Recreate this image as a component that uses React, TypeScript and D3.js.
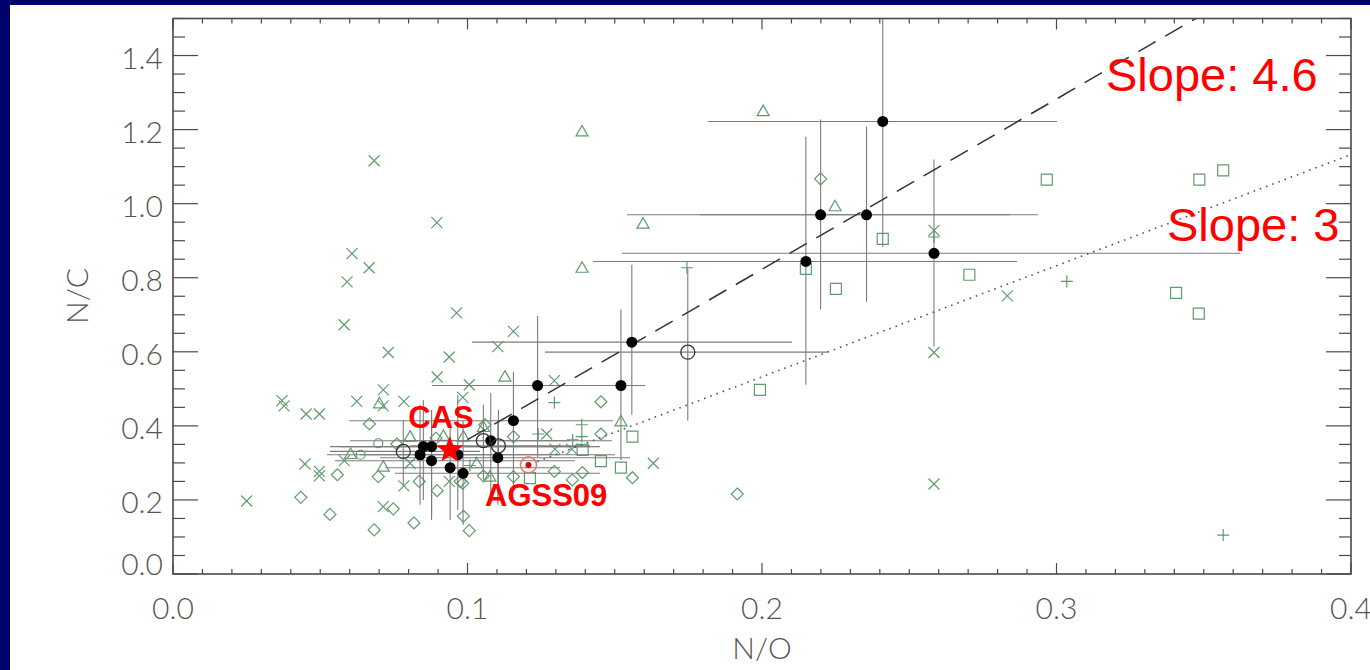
import React from 'react';
import * as d3 from 'd3';

const W = 1370;
const H = 670;

// Axis ticks
const xMajor = [0, 0.1, 0.2, 0.3, 0.4];
const yMajor = [0, 0.2, 0.4, 0.6, 0.8, 1.0, 1.2, 1.4];

// Filled stars with error ranges: [N/O, N/C, N/O lo, N/O hi, N/C lo, N/C hi]
const filledStars = [
  [0.2410, 1.222, 0.1817, 0.3002, 0.884, 1.62],
  [0.2199, 0.970, 0.1542, 0.2842, 0.714, 1.227],
  [0.2355, 0.970, 0.1789, 0.2937, 0.735, 1.208],
  [0.2149, 0.844, 0.1426, 0.2866, 0.511, 1.181],
  [0.2584, 0.866, 0.1525, 0.3623, 0.614, 1.119],
  [0.1558, 0.626, 0.1015, 0.2102, 0.430, 0.835],
  [0.1521, 0.509, 0.1008, 0.1603, 0.308, 0.714],
  [0.1238, 0.509, 0.0879, 0.1586, 0.316, 0.697],
  [0.1156, 0.414, 0.0598, 0.1494, 0.235, 0.546],
  [0.1079, 0.360, 0.0601, 0.1491, 0.192, 0.489],
  [0.1103, 0.314, 0.0703, 0.1552, 0.187, 0.416],
  [0.0985, 0.272, 0.0754, 0.1450, 0.132, 0.416],
  [0.0941, 0.287, 0.0720, 0.1314, 0.146, 0.416],
  [0.0878, 0.306, 0.0550, 0.1365, 0.146, 0.430],
  [0.0839, 0.322, 0.0523, 0.1314, 0.187, 0.457],
  [0.0850, 0.344, 0.0533, 0.1416, 0.200, 0.470],
  [0.0878, 0.344, 0.0567, 0.1450, 0.160, 0.443],
  [0.0967, 0.322, 0.0635, 0.1501, 0.173, 0.484],
];

// Open stars with error ranges
const openStars = [
  [0.0782, 0.331, 0.0533, 0.1042, 0.241, 0.416],
  [0.1054, 0.360, 0.0771, 0.1348, 0.254, 0.457],
  [0.1105, 0.346, 0.0805, 0.1416, 0.227, 0.443],
  [0.1748, 0.599, 0.1263, 0.2224, 0.414, 0.827],
];

// Comparison samples, one list per plot symbol: [N/O, N/C]
const crossPts = [
  [0.0683, 1.116], [0.0896, 0.949], [0.0608, 0.865], [0.0666, 0.827], [0.0591, 0.789],
  [0.0581, 0.673], [0.0963, 0.705], [0.1156, 0.655], [0.0731, 0.598], [0.1103, 0.614],
  [0.0938, 0.586], [0.0897, 0.532], [0.0714, 0.497], [0.1006, 0.511], [0.0984, 0.477],
  [0.0370, 0.468], [0.0377, 0.454], [0.0452, 0.432], [0.0497, 0.432], [0.0624, 0.466],
  [0.0714, 0.454], [0.0784, 0.466], [0.0250, 0.197], [0.0448, 0.297], [0.0497, 0.277],
  [0.0497, 0.265], [0.0582, 0.306], [0.0714, 0.182], [0.0784, 0.238], [0.0805, 0.299],
  [0.1295, 0.522], [0.1269, 0.378], [0.1297, 0.337], [0.1354, 0.337], [0.1631, 0.299],
  [0.2584, 0.928], [0.2584, 0.598], [0.2584, 0.243], [0.2833, 0.751], [0.0938, 0.250],
];
const diamondPts = [
  [0.2199, 1.067], [0.1453, 0.465], [0.1453, 0.378], [0.1156, 0.371], [0.1560, 0.260],
  [0.1390, 0.274], [0.1356, 0.254], [0.1295, 0.277], [0.1916, 0.216], [0.0986, 0.156],
  [0.1006, 0.117], [0.0818, 0.138], [0.0667, 0.405], [0.0434, 0.207], [0.0533, 0.161],
  [0.0558, 0.268], [0.0683, 0.119], [0.0748, 0.176], [0.0697, 0.263], [0.0836, 0.250],
  [0.0897, 0.225], [0.0984, 0.245], [0.1054, 0.265], [0.0760, 0.351], [0.0893, 0.367],
  [0.0975, 0.250], [0.1156, 0.263], [0.1059, 0.403],
];
const trianglePts = [
  [0.1389, 1.195], [0.2004, 1.250], [0.1596, 0.946], [0.1389, 0.827], [0.2248, 0.993],
  [0.1127, 0.533], [0.1521, 0.412], [0.0701, 0.461], [0.0603, 0.324], [0.0714, 0.290],
  [0.0805, 0.371], [0.1031, 0.299], [0.1076, 0.263], [0.1054, 0.397], [0.0918, 0.373],
  [0.0986, 0.371],
];
const squarePts = [
  [0.2410, 0.905], [0.2149, 0.824], [0.2251, 0.770], [0.2704, 0.808], [0.2967, 1.065],
  [0.3485, 1.065], [0.3566, 1.090], [0.3406, 0.759], [0.3483, 0.703], [0.1993, 0.497],
  [0.1560, 0.371], [0.1391, 0.335], [0.1453, 0.305], [0.1521, 0.287], [0.1212, 0.259],
];
const plusPts = [
  [0.1745, 0.827], [0.2584, 0.910], [0.3035, 0.790], [0.3566, 0.105], [0.1295, 0.463],
  [0.1388, 0.403], [0.1388, 0.371], [0.1240, 0.378], [0.1357, 0.362], [0.1008, 0.293],
];
const circlePts = [
  [0.0697, 0.353], [0.0637, 0.322],
];

// Reference abundances
const cas = [0.094, 0.335];
const agss09 = [0.1207, 0.2946];
const slopeSteep = 4.6;
const slopeShallow = 3;

const x = d3.scaleLinear().domain([0, 0.4]).range([173, 1351]);
const y = d3.scaleLinear().domain([0, 1.5]).range([574, 18.5]);

const GREEN = '#5f9c6c';
const GREY = '#7c7c7c';
const AXIS = '#4a4a4a';
const LABEL_FONT = 'Lato, "DejaVu Sans", sans-serif';

function crossPath(cx: number, cy: number, r: number) {
  return `M${cx - r},${cy - r}L${cx + r},${cy + r}M${cx - r},${cy + r}L${cx + r},${cy - r}`;
}
function plusPath(cx: number, cy: number, r: number) {
  return `M${cx - r},${cy}L${cx + r},${cy}M${cx},${cy - r}L${cx},${cy + r}`;
}
function diamondPath(cx: number, cy: number, r: number) {
  return `M${cx},${cy - r}L${cx + r},${cy}L${cx},${cy + r}L${cx - r},${cy}Z`;
}
function trianglePath(cx: number, cy: number, r: number) {
  return `M${cx},${cy - r}L${cx + r},${cy + r * 0.75}L${cx - r},${cy + r * 0.75}Z`;
}
function squarePath(cx: number, cy: number, r: number) {
  return `M${cx - r},${cy - r}H${cx + r}V${cy + r}H${cx - r}Z`;
}
function starPath(cx: number, cy: number, R: number, ri: number) {
  const pts: string[] = [];
  for (let i = 0; i < 10; i++) {
    const a = -Math.PI / 2 + (i * Math.PI) / 5;
    const r = i % 2 === 0 ? R : ri;
    pts.push(`${cx + r * Math.cos(a)},${cy + r * Math.sin(a)}`);
  }
  return 'M' + pts.join('L') + 'Z';
}

export default function App() {
  const [x0, x1] = x.range();
  const [y0, y1] = y.range();
  const xMinor = d3.range(0, 0.4001, 0.01);
  const yMinor = d3.range(0, 1.5001, 0.05);

  // Fit lines anchored on the reference abundances
  const steepStart = 0.1;
  const steepEnd = cas[0] + (1.5 - cas[1]) / slopeSteep;
  const shallowStart = agss09[0] + 0.003;
  const shallowEnd = 0.4;
  const lineSteep = (v: number) => cas[1] + slopeSteep * (v - cas[0]);
  const lineShallow = (v: number) => agss09[1] + slopeShallow * (v - agss09[0]);

  const errorBars = (rows: number[][]) =>
    rows.map((r, i) => (
      <g key={i}>
        <line x1={x(r[2])} x2={x(r[3])} y1={y(r[1])} y2={y(r[1])} />
        <line x1={x(r[0])} x2={x(r[0])} y1={y(r[4])} y2={y(r[5])} />
      </g>
    ));

  const symbolGroup = (pts: number[][], fn: (a: number, b: number, r: number) => string, r: number) =>
    pts.map((p, i) => <path key={i} d={fn(x(p[0]), y(p[1]), r)} />);

  return (
    <svg width={W} height={H} style={{ position: 'absolute', left: 0, top: 0 }}>
      <rect x={0} y={0} width={W} height={H} fill="#00006b" />
      <rect x={10} y={5} width={W - 10} height={H - 5} fill="#ffffff" />
      <defs>
        <clipPath id="plot-area">
          <rect x={x0} y={y1} width={x1 - x0} height={y0 - y1} />
        </clipPath>
      </defs>

      <g clipPath="url(#plot-area)">
        {/* comparison samples */}
        <g fill="none" stroke={GREEN} strokeWidth={1.2}>
          {symbolGroup(crossPts, crossPath, 5.5)}
          {symbolGroup(diamondPts, diamondPath, 6)}
          {symbolGroup(trianglePts, trianglePath, 6)}
          {symbolGroup(squarePts, squarePath, 5.5)}
          {symbolGroup(plusPts, plusPath, 6)}
          {circlePts.map((p, i) => (
            <circle key={i} cx={x(p[0])} cy={y(p[1])} r={4.5} />
          ))}
        </g>

        {/* error bars */}
        <g stroke={GREY} strokeWidth={1.1}>
          {errorBars(filledStars)}
          {errorBars(openStars)}
        </g>

        {/* slope lines */}
        <line
          x1={x(steepStart)} y1={y(lineSteep(steepStart))}
          x2={x(steepEnd)} y2={y(lineSteep(steepEnd))}
          stroke="#333" strokeWidth={1.5} strokeDasharray="20 11"
        />
        <line
          x1={x(shallowStart)} y1={y(lineShallow(shallowStart))}
          x2={x(shallowEnd)} y2={y(lineShallow(shallowEnd))}
          stroke="#555" strokeWidth={1.6} strokeDasharray="1.6 5"
        />

        {/* stars */}
        <g fill="#000">
          {filledStars.map((r, i) => (
            <circle key={i} cx={x(r[0])} cy={y(r[1])} r={5.5} />
          ))}
        </g>
        <g fill="none" stroke="#333" strokeWidth={1.3}>
          {openStars.map((r, i) => (
            <circle key={i} cx={x(r[0])} cy={y(r[1])} r={7} />
          ))}
        </g>

        {/* AGSS09 solar value */}
        <circle cx={x(agss09[0])} cy={y(agss09[1])} r={8} fill="none" stroke="#e07a7a" strokeWidth={1.6} />
        <circle cx={x(agss09[0])} cy={y(agss09[1])} r={3} fill="#e00000" />

        {/* CAS value */}
        <path d={starPath(x(cas[0]), y(cas[1]), 14, 6)} fill="#ff0000" />
      </g>

      {/* frame */}
      <rect x={x0} y={y1} width={x1 - x0} height={y0 - y1} fill="none" stroke={AXIS} strokeWidth={1.6} />

      {/* x ticks, bottom and top */}
      <g stroke={AXIS} strokeWidth={1.2}>
        {xMinor.map((v, i) => {
          const major = i % 10 === 0;
          const len = major ? 11 : 5;
          return (
            <g key={i}>
              <line x1={x(v)} x2={x(v)} y1={y0} y2={y0 - len} />
              <line x1={x(v)} x2={x(v)} y1={y1} y2={y1 + len} />
            </g>
          );
        })}
        {yMinor.map((v, i) => {
          const major = i % 4 === 0;
          const len = major ? 25 : 12;
          return (
            <g key={i}>
              <line x1={x0} x2={x0 + len} y1={y(v)} y2={y(v)} />
              <line x1={x1} x2={x1 - len} y1={y(v)} y2={y(v)} />
            </g>
          );
        })}
      </g>

      {/* tick labels */}
      <g fontFamily={LABEL_FONT} fontWeight={300} fontSize={30} fill="#555">
        {xMajor.map((v) => (
          <text key={v} x={x(v)} y={619} textAnchor="middle">
            {d3.format('.1f')(v)}
          </text>
        ))}
        {yMajor.map((v) => (
          <text key={v} x={163} y={y(v) + (v === 0 ? 1 : 13)} textAnchor="end">
            {d3.format('.1f')(v)}
          </text>
        ))}
        <text x={762} y={659} textAnchor="middle">N/O</text>
        <text transform="translate(88,296) rotate(-90)" textAnchor="middle">N/C</text>
      </g>

      {/* annotations */}
      <g fill="#ff0000" fontFamily='"Liberation Sans", Arial, sans-serif'>
        <text x={441} y={428} textAnchor="middle" fontWeight="bold" fontSize={31}>CAS</text>
        <text x={485} y={506} fontWeight="bold" fontSize={31}>AGSS09</text>
        <text x={1106} y={91} fontSize={47}>Slope: 4.6</text>
        <text x={1167} y={241} fontSize={47}>Slope: 3</text>
      </g>
    </svg>
  );
}
